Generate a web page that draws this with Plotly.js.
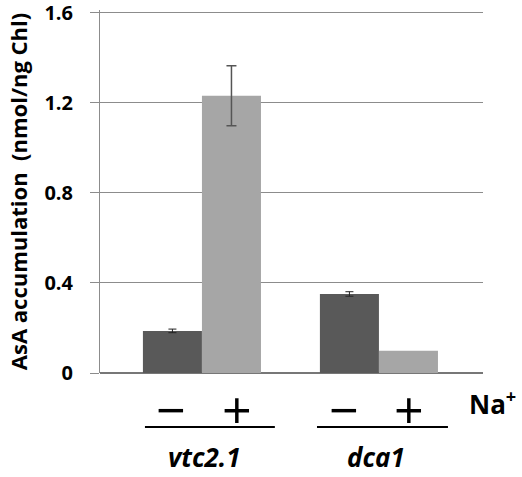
<!DOCTYPE html>
<html><head><meta charset="utf-8">
<script src="https://cdn.plot.ly/plotly-3.0.1.min.js"></script>
<style>body{margin:0;background:#fff}#c{width:522px;height:477px}</style>
</head><body><div id="c"></div>
<script>
var genotypes = ['vtc2.1', 'dca1'];
var minusVals = [0.187, 0.351];
var minusErr = [0.008, 0.010];
var plusVals = [1.231, 0.099];
var plusErr = [0.133, NaN];
var yTicks = [0, 0.4, 0.8, 1.2, 1.6];
var yTickText = ['0', '0.4', '0.8', '1.2', '1.6'];

var xi = genotypes.map(function(_, i){ return i; });
var font = "'Open Sans', 'DejaVu Sans', sans-serif";

var traces = [
  {type:'bar', x: xi, y: minusVals, name:'−', marker:{color:'#595959'},
   error_y:{type:'data', array: minusErr, visible:true, color:'#222', thickness:1, width:4}},
  {type:'bar', x: xi, y: plusVals, name:'+', marker:{color:'#a6a6a6'},
   error_y:{type:'data', array: plusErr, visible:true, color:'#555', thickness:1.5, width:5}}
];

var labelShift = [3, -3];
var minusShift = [-1, -5];
var plusShift = [6, 1];
var ann = [];
xi.forEach(function(i){
  ann.push({x: i - 0.1667, y: 0, xref:'x', yref:'y', xshift: minusShift[i], yshift:-35, text:'−', showarrow:false,
            font:{family:font, size:52, color:'#000'}});
  ann.push({x: i + 0.1667, y: 0, xref:'x', yref:'y', xshift: plusShift[i], yshift:-35, text:'+', showarrow:false,
            font:{family:font, size:52, color:'#000'}});
  ann.push({x: i, y: 0, xref:'x', yref:'y', xshift: labelShift[i], yshift:-84, text:'<b><i>'+genotypes[i]+'</i></b>', showarrow:false,
            font:{family:font, size:26, color:'#000'}});
});
ann.push({x: 1.0, xref:'paper', y: 0, yref:'y', xanchor:'left', xshift:-16, yshift:-30,
          text:'<b>Na<sup>+</sup></b>', showarrow:false, font:{family:font, size:26, color:'#000'}});

var shapes = [
  {type:'line', xref:'x', yref:'paper', x0:-0.322, x1:0.412, y0:-0.149, y1:-0.149, line:{color:'#000', width:2}},
  {type:'line', xref:'x', yref:'paper', x0:0.650, x1:1.390, y0:-0.149, y1:-0.149, line:{color:'#000', width:2}}
];

var layout = {
  width:522, height:477,
  margin:{l:100, r:39, t:10.3, b:104},
  paper_bgcolor:'#fff', plot_bgcolor:'#fff',
  barmode:'group', bargap:0.333, bargroupgap:0,
  showlegend:false,
  xaxis:{range:[-0.576, 1.588], showticklabels:false, showgrid:false, zeroline:false,
         showline:false, ticks:'', fixedrange:true},
  yaxis:{range:[0, 1.612], tickvals:yTicks, ticktext:yTickText, showgrid:true, gridcolor:'#8c8c8c', gridwidth:1,
         zeroline:true, zerolinecolor:'#777', zerolinewidth:1.5, showline:true, linecolor:'#8c8c8c', linewidth:1,
         ticks:'outside', ticklen:9, tickcolor:'#8c8c8c', tickwidth:1,
         ticklabelstandoff:13, ticklabeloverflow:'allow',
         tickfont:{family:font, size:20, color:'#000', weight:'bold'},
         title:{text:'<b>AsA accumulation  (nmol/ng Chl)</b>', standoff:10, font:{family:font, size:22, color:'#000'}}},
  annotations: ann,
  shapes: shapes
};
Plotly.newPlot('c', traces, layout, {displayModeBar:false, staticPlot:true});
</script></body></html>
